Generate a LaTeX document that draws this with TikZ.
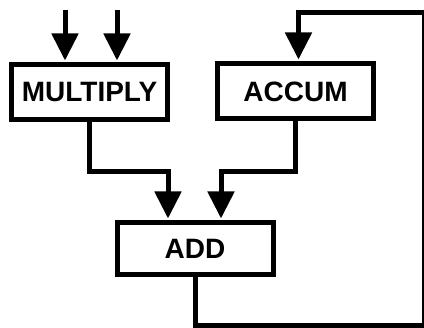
\documentclass[tikz,border=0pt]{standalone}
\usepackage{fontspec}
\setmainfont{Liberation Sans}
\usetikzlibrary{arrows.meta}
\tikzset{
    unit/.style = {draw, line width = 5pt, minimum width = 156pt, minimum height = 55pt,
        inner sep = 0pt, font = \bfseries\fontsize{28}{32}\selectfont},
    wire/.style = {line width = 5pt},
    flow/.style = {wire, -{Triangle[width = 26pt, length = 27pt]}, shorten > = 2pt}
}
\begin{document}
\begin{tikzpicture}[x = 1pt, y = -1pt]
        \useasboundingbox (0,0) rectangle (424,328);
        \clip (0,0) rectangle (424,328);
        \node[unit] (mult) at (89.5,92.5) {MULTIPLY};
        \node[unit] (accum) at (295.5,91.5) {ACCUM};
        \node[unit, minimum height = 52pt] (add) at (195,249) {ADD};
        \coordinate (inA) at (65,10);
        \coordinate (inB) at (117,10);
        \coordinate (fbr) at (424,325.5);
        \coordinate (fbt) at (424,13);
        \draw[flow] (inA) -- (inA |- mult.north);
        \draw[flow] (inB) -- (inB |- mult.north);
        \draw[flow] (mult.south) -- ++(0,49.5) -| ([xshift = -27pt]add.north);
        \draw[flow] (accum.south) -- ++(0,50.5) -| ([xshift = 26pt]add.north);
        \draw[flow] (add.south) |- (fbr) -- (fbt) -| ([xshift = 3pt]accum.north);
    \end{tikzpicture}
\end{document}
